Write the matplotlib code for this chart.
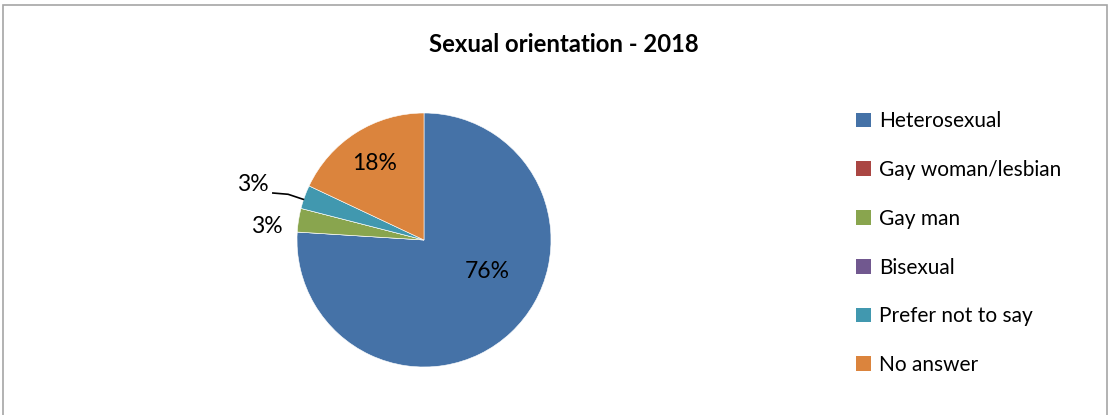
import matplotlib
matplotlib.use("Agg")
import matplotlib.pyplot as plt
from matplotlib.patches import Rectangle, Patch

plt.rcParams['font.family'] = ['Lato', 'DejaVu Sans']

categories = ["Heterosexual", "Gay woman/lesbian", "Gay man", "Bisexual",
              "Prefer not to say", "No answer"]
shares = [76, 0, 3, 0, 3, 18]
colors = ["#4572A7", "#AA4643", "#89A54E", "#71588F", "#4198AF", "#DB843D"]

# label anchor per slice (in pie-radius units), None = no label
label_pos = [(0.50, -0.25), None, (-1.24, 0.11), None, (-1.35, 0.44), (-0.39, 0.60)]

W, H = 1111, 415
fig = plt.figure(figsize=(W / 100, H / 100), dpi=100)

# chart frame (open at the bottom)
fig.patches.append(Rectangle((3 / W, -0.1), 1104 / W, (H - 5) / H + 0.1,
                             transform=fig.transFigure, fill=False,
                             edgecolor="#a6a6a6", linewidth=1.2))

fig.text(564 / W, 1 - 44 / H, "Sexual orientation - 2018", ha="center",
         va="center", fontsize=17.2, fontweight="bold")

# pie axes centred on (424, 240) px, radius 127 px
cx, cy, r, half = 424, 240, 127, 220
ax = fig.add_axes([(cx - half) / W, (H - cy - half) / H, 2 * half / W, 2 * half / H])

wedges, _ = ax.pie(shares, colors=colors, startangle=90, counterclock=False,
                   radius=1.0, wedgeprops=dict(edgecolor="white", linewidth=0.4))
ax.set_xlim(-half / r, half / r)
ax.set_ylim(-half / r, half / r)
ax.set_aspect("equal")
ax.axis("off")

for val, pos in zip(shares, label_pos):
    if pos is None or val == 0:
        continue
    ax.text(pos[0], pos[1], f"{val}%", ha="center", va="center", fontsize=16.5)

# leader line for the "prefer not to say" label
ax.plot([-1.19, -1.07, -0.95], [0.37, 0.36, 0.32], color="black", lw=1.2)

handles = [Patch(facecolor=c, edgecolor="none") for c in colors]
fig.legend(handles, categories, loc="upper left",
           bbox_to_anchor=(848 / W, 1 - 103 / H), frameon=False,
           fontsize=15, handlelength=0.7, handleheight=0.7, handletextpad=0.4,
           labelspacing=1.38, borderaxespad=0)

fig.savefig("out.png", dpi=100)
